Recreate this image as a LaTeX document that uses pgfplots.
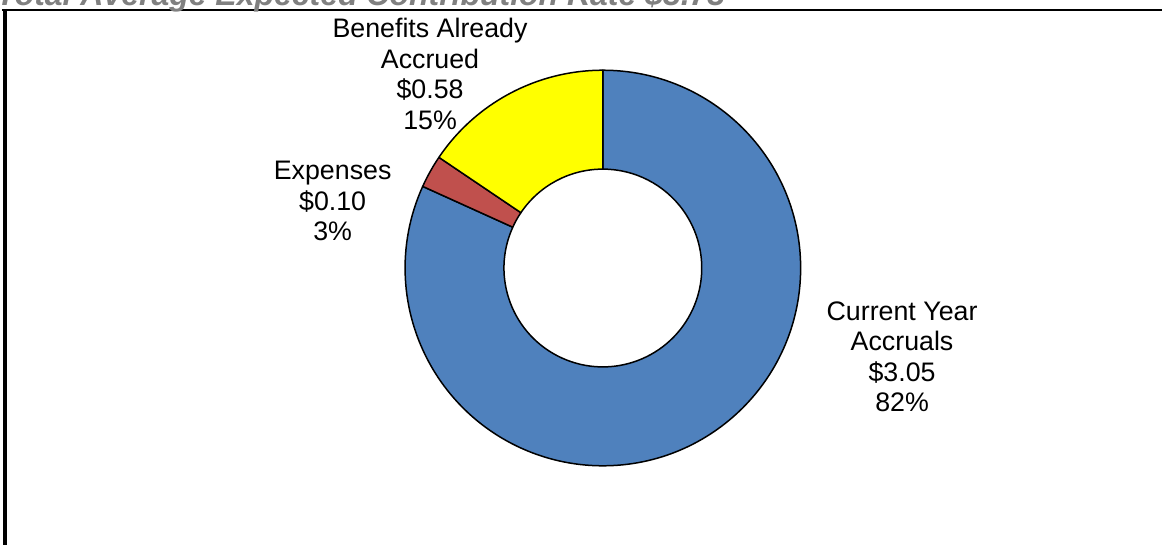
\documentclass[border=0pt]{standalone}
\usepackage{pgfplots}
\pgfplotsset{compat=1.18}
\usepackage{pgfplotstable}
\usepackage{fontspec}
\setmainfont{Liberation Sans}
\definecolor{cblue}{HTML}{4F81BD}
\definecolor{cred}{HTML}{C0504D}
\definecolor{cyellow}{HTML}{FFFF00}
\definecolor{ctitle}{HTML}{808080}

\pgfplotstableread{
label value
Current 3.05
Expenses 0.10
Benefits 0.58
}\datatable

\newcommand\cx{603.5}
\newcommand\cy{277.7}
\newcommand\Ro{198}
\newcommand\Ri{99}
\newcommand\donutslice[3]{%
  \filldraw[fill=#3, draw=black, line width=0.75pt, line join=round]
    (axis cs:{\cx+\Ro*cos(#1)},{\cy+\Ro*sin(#1)})
    arc[start angle=#1, end angle=#2, radius=99pt]
    -- (axis cs:{\cx+\Ri*cos(#2)},{\cy+\Ri*sin(#2)})
    arc[start angle=#2, end angle=#1, radius=49.5pt] -- cycle;}
\newcommand\lbl[3]{\node[anchor=base, inner sep=0pt, font=\fontsize{13.4}{15.25}\selectfont] at (axis cs:#1,{546-#2}) {#3};}

\begin{document}%
\begin{tikzpicture}
\pgfplotstablegetelem{0}{value}\of\datatable \let\va\pgfplotsretval
\pgfplotstablegetelem{1}{value}\of\datatable \let\vb\pgfplotsretval
\pgfplotstablegetelem{2}{value}\of\datatable \let\vc\pgfplotsretval
\pgfmathsetmacro\tot{\va+\vb+\vc}
\pgfmathsetmacro\aA{90}
\pgfmathsetmacro\aB{90-360*\va/\tot}
\pgfmathsetmacro\aC{\aB-360*\vb/\tot}
\pgfmathsetmacro\aD{\aC-360*\vc/\tot}
\begin{axis}[x=0.5pt, y=0.5pt, xmin=0, xmax=1163, ymin=0, ymax=546,
  hide axis, clip=false, scale only axis]
  \path (axis cs:0,0) rectangle (axis cs:1163,546);
  \donutslice{\aA}{\aB}{cblue}
  \donutslice{\aB}{\aC}{cred}
  \donutslice{\aC}{\aD}{cyellow}
  % frame lines
  \draw[line width=1.25pt, line cap=butt] (axis cs:2,536) -- (axis cs:1163,536);
  \draw[line width=2.25pt, line cap=butt] (axis cs:5,537) -- (axis cs:5,0);
  % title (cut off at top)
  \node[overlay, anchor=base west, inner sep=0pt, text=ctitle,
        font=\fontsize{16}{19}\selectfont\bfseries\itshape]
        at (axis cs:-4,540) {Total Average Expected Contribution Rate \$3.73};
  % labels
  \lbl{903}{320.5}{Current Year}
  \lbl{903}{351}{Accruals}
  \lbl{903}{381.5}{\$3.05}
  \lbl{903}{412}{82\%}
  \lbl{430.5}{38}{Benefits Already}
  \lbl{430.5}{68.5}{Accrued}
  \lbl{430.5}{99}{\$0.58}
  \lbl{430.5}{129.5}{15\%}
  \lbl{333}{180}{Expenses}
  \lbl{333}{210.5}{\$0.10}
  \lbl{333}{241}{3\%}
\end{axis}
\end{tikzpicture}%
\end{document}
